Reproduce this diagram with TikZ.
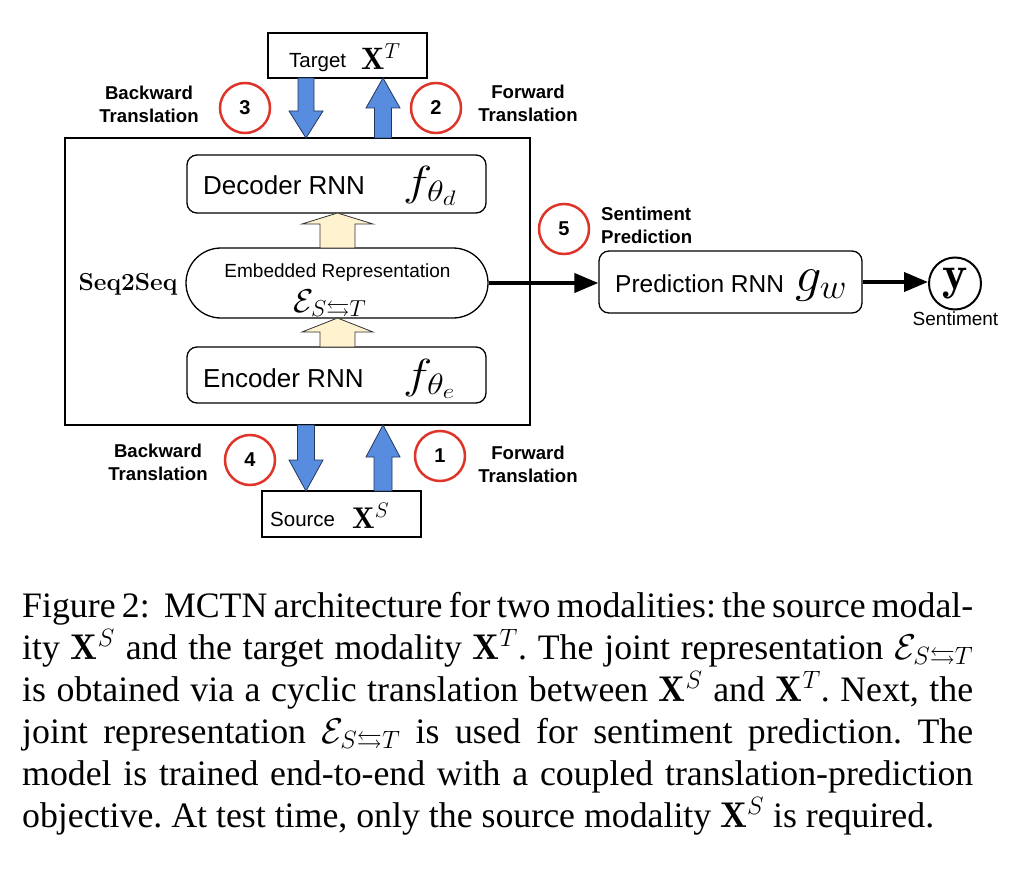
\RequirePackage{fix-cm}
\documentclass[tikz,border=0pt]{standalone}
\usepackage{amsmath,amssymb}
\usepackage{fontspec}
\newfontfamily\arialfont{Liberation Sans}
\newfontfamily\capfont{Liberation Serif}
\usetikzlibrary{arrows.meta}
\definecolor{bluefill}{RGB}{88,140,222}
\definecolor{blueline}{RGB}{35,55,95}
\definecolor{beigefill}{RGB}{255,242,206}
\definecolor{circred}{RGB}{222,52,42}
\newcommand\blockarr[7]{\filldraw[#1] ({#2-#6},#3) -- ({#2-#6},#4) -- ({#2-#7},#4) -- (#2,#5) -- ({#2+#7},#4) -- ({#2+#6},#4) -- ({#2+#6},#3) -- cycle;}
\tikzset{
  plainbox/.style={draw, line width=1.3pt, rectangle, inner sep=0pt},
  rbox/.style={draw, line width=1.3pt, rectangle, rounded corners=10pt, inner sep=0pt},
  numcirc/.style={circle, draw=circred, line width=2.5pt, minimum size=50pt, inner sep=0pt,
    font=\arialfont\bfseries\fontsize{20}{20}\selectfont},
  lab/.style={inner sep=0pt, align=center, font=\arialfont\bfseries\fontsize{18.6}{23}\selectfont},
  boxtxt/.style={inner sep=0pt, font=\arialfont\fontsize{26}{28}\selectfont},
  smalltxt/.style={inner sep=0pt, font=\arialfont\fontsize{20.5}{22}\selectfont},
  mathtxt/.style={inner sep=0pt},
  bluearr/.style={fill=bluefill, draw=blueline, line width=0.8pt},
  beigearr/.style={fill=beigefill, draw=black!80, line width=0.8pt},
  conn/.style={line width=4pt, -{Triangle[length=24pt,width=19pt]}}
}
\begin{document}
\begin{tikzpicture}[x=1pt,y=-1pt]
\useasboundingbox (0,0) rectangle (1020,872);
\fill[white] (0,0) rectangle (1020,872);

% outer Seq2Seq box
\node[plainbox, minimum width=465pt, minimum height=287pt] (seq) at (297.5,281.5) {};
\node[inner sep=0pt, anchor=base, font=\bfseries\fontsize{24.5}{26}\selectfont] (seqlab) at (128,290) {Seq2Seq};

% target / source
\node[plainbox, minimum width=159pt, minimum height=45pt] (tgt) at (347.5,55.5) {};
\node[smalltxt, anchor=base west] (tgttxt) at (289,68) {Target};
\node[mathtxt, anchor=base west, font=\fontsize{31}{33}\selectfont] (tgtx) at (361,70) {$\mathbf{X}^T$};
\node[plainbox, minimum width=159pt, minimum height=46pt] (src) at (341.5,514) {};
\node[smalltxt, anchor=base west] (srctxt) at (270,526) {Source};
\node[mathtxt, anchor=base west, font=\fontsize{30}{32}\selectfont] (srcx) at (352,528) {$\mathbf{X}^S$};

% inner boxes
\node[rbox, minimum width=299pt, minimum height=58pt] (dec) at (336.5,184) {};
\node[boxtxt, anchor=base west] (dectxt) at (203,194) {Decoder RNN};
\node[mathtxt, anchor=base west, font=\fontsize{42}{44}\selectfont] (decf) at (403,195) {\scalebox{1.18}[1]{$f_{\theta_d}$}};
\node[rbox, minimum width=302pt, minimum height=70pt, rounded corners=35pt] (emb) at (337,283) {};
\node[inner sep=0pt, anchor=base, font=\arialfont\fontsize{19}{21}\selectfont] (embtxt) at (337.5,277) {Embedded Representation};
\node[mathtxt, anchor=base, font=\fontsize{33}{35}\selectfont] (embm) at (330,312) {$\mathcal{E}_{S\leftrightarrows T}$};
\node[rbox, minimum width=299pt, minimum height=56pt] (enc) at (336.5,375) {};
\node[boxtxt, anchor=base west] (enctxt) at (203,387) {Encoder RNN};
\node[mathtxt, anchor=base west, font=\fontsize{42}{44}\selectfont] (encf) at (403,388) {\scalebox{1.18}[1]{$f_{\theta_e}$}};

% prediction
\node[rbox, minimum width=263pt, minimum height=62pt] (pred) at (730.5,282) {};
\node[inner sep=0pt, anchor=base west, font=\arialfont\fontsize{24.5}{26}\selectfont] (predtxt) at (615,292) {Prediction RNN};
\node[mathtxt, anchor=base west, font=\fontsize{50}{52}\selectfont] (predg) at (795,291) {\scalebox{1.05}[1]{$g_w$}};
\node[circle, draw, line width=2pt, minimum size=52pt, inner sep=0pt, font=\fontsize{48}{50}\selectfont] (yout) at (955,283.5) {$\mathbf{y}$};
\node[inner sep=0pt, anchor=base, font=\arialfont\fontsize{19}{21}\selectfont] (senttxt) at (955.5,325) {Sentiment};

% connectors
\draw[conn] (emb.east) -- (emb.east -| pred.west);
\draw[conn] (pred.east) -- (pred.east -| yout.west);

% block arrows
\blockarr{bluearr}{306}{78}{111}{138}{8}{17}
\blockarr{bluearr}{383}{138}{108}{78}{8.5}{17}
\blockarr{bluearr}{306}{425}{460}{491}{8.5}{17}
\blockarr{bluearr}{383}{491}{457}{425}{9}{17}
\blockarr{beigearr}{337.5}{248}{224}{213}{17.5}{35.5}
\blockarr{beigearr}{337.5}{347}{332}{318}{17.5}{35.5}

% numbered circles
\node[numcirc] (c3) at (245,108) {3};
\node[numcirc] (c2) at (436,108) {2};
\node[numcirc] (c4) at (250,460) {4};
\node[numcirc] (c1) at (440,456) {1};
\node[numcirc] (c5) at (564,229) {5};

% labels
\node[lab] (l3) at (149,104) {Backward\\Translation};
\node[lab] (l2) at (528,103) {Forward\\Translation};
\node[lab] (l4) at (158,462) {Backward\\Translation};
\node[lab] (l1) at (528,464) {Forward\\Translation};
\node[lab, align=left, anchor=west] (l5) at (601,225) {Sentiment\\Prediction};

% caption
\node[inner sep=0pt, anchor=base west] (cap) at (22,617) {\parbox[t]{951pt}{\capfont\fontsize{35.8}{42}\selectfont\frenchspacing
Figure 2:\hspace{8pt} MCTN architecture for two modalities: the source modal-\linebreak
ity $\mathbf{X}^S$ and the target modality $\mathbf{X}^T$. The joint representation $\mathcal{E}_{S\leftrightarrows T}$\linebreak
is obtained via a cyclic translation between $\mathbf{X}^S$ and $\mathbf{X}^T$. Next, the\linebreak
joint representation $\mathcal{E}_{S\leftrightarrows T}$ is used for sentiment prediction. The\linebreak
model is trained end-to-end with a coupled translation-prediction\linebreak
objective. At test time, only the source modality $\mathbf{X}^S$ is required.}};
\end{tikzpicture}
\end{document}
